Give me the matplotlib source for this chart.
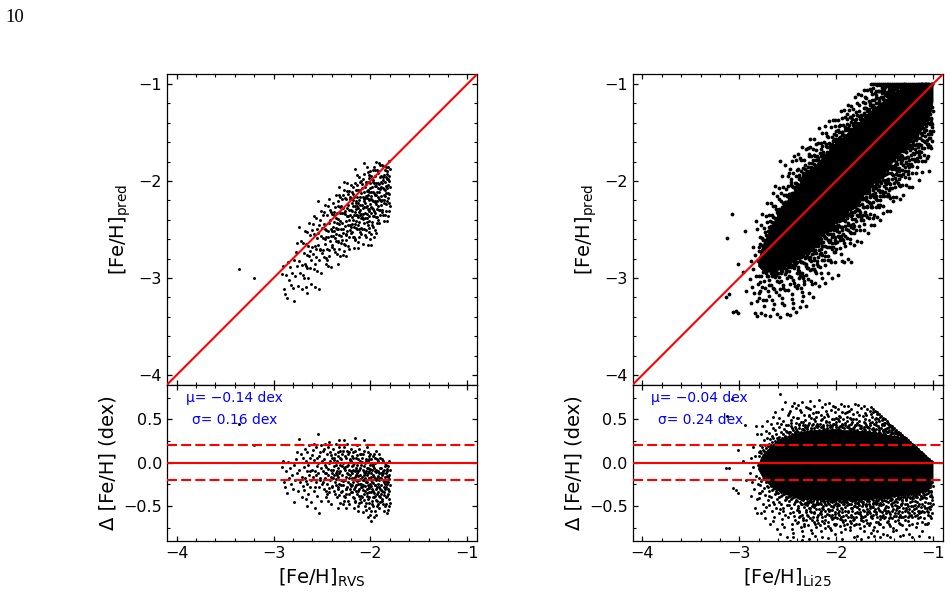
import matplotlib
matplotlib.use("Agg")
import matplotlib.pyplot as plt
import numpy as np
from matplotlib.ticker import MultipleLocator

# ---------------- data ----------------
# Left panel: ([Fe/H]_RVS, residual = pred - RVS)
rvs_pairs = [
    (-3.36, 0.45), (-3.20, 0.20),
    (-2.91, -0.05), (-2.90, 0.02), (-2.89, -0.22), (-2.88, -0.28), (-2.87, -0.10), (-2.86, -0.35),
    (-2.85, 0.01), (-2.84, -0.18), (-2.83, -0.06), (-2.82, -0.25), (-2.81, -0.14), (-2.80, -0.30),
    (-2.79, -0.02), (-2.78, -0.20), (-2.77, 0.04), (-2.76, -0.12), (-2.75, -0.33), (-2.74, 0.27),
    (-2.74, -0.08), (-2.73, -0.22), (-2.72, 0.10), (-2.71, -0.16), (-2.71, -0.40), (-2.70, 0.06),
    (-2.70, -0.27), (-2.79, -0.45), (-2.76, 0.12),
    (-2.69, -0.05), (-2.69, -0.31), (-2.68, 0.16), (-2.68, -0.18), (-2.67, -0.42), (-2.67, 0.02),
    (-2.66, -0.10), (-2.66, -0.24), (-2.65, 0.12), (-2.65, -0.50), (-2.64, -0.03), (-2.64, -0.36),
    (-2.63, 0.20), (-2.63, -0.14), (-2.62, -0.28), (-2.62, 0.06), (-2.61, -0.20), (-2.61, -0.45),
    (-2.60, 0.09), (-2.60, -0.08),
    (-2.59, -0.16), (-2.59, 0.15), (-2.58, -0.33), (-2.58, 0.03), (-2.57, -0.10), (-2.57, -0.52),
    (-2.56, 0.18), (-2.56, -0.22), (-2.55, -0.04), (-2.55, -0.38), (-2.54, 0.33), (-2.54, -0.12),
    (-2.53, 0.08), (-2.53, -0.28), (-2.52, -0.18), (-2.52, 0.12), (-2.51, -0.44), (-2.51, -0.06),
    (-2.50, 0.02), (-2.50, -0.24), (-2.58, 0.22), (-2.53, -0.58), (-2.56, -0.14), (-2.51, 0.20),
    (-2.55, 0.05),
    (-2.49, -0.10), (-2.49, 0.14), (-2.48, -0.30), (-2.48, 0.04), (-2.47, -0.18), (-2.47, 0.22),
    (-2.46, -0.40), (-2.46, -0.05), (-2.45, 0.10), (-2.45, -0.25), (-2.44, -0.14), (-2.44, 0.18),
    (-2.43, -0.34), (-2.43, 0.00), (-2.42, -0.20), (-2.42, 0.12), (-2.41, -0.08), (-2.41, -0.48),
    (-2.40, 0.06), (-2.40, -0.28), (-2.49, -0.22), (-2.47, -0.02), (-2.45, -0.36), (-2.43, 0.24),
    (-2.41, -0.16), (-2.48, 0.16), (-2.46, -0.12), (-2.44, -0.44), (-2.42, 0.02), (-2.40, -0.12),
    (-2.39, 0.16), (-2.39, -0.18), (-2.38, -0.04), (-2.38, -0.32), (-2.37, 0.10), (-2.37, -0.22),
    (-2.36, -0.12), (-2.36, 0.22), (-2.35, -0.40), (-2.35, 0.02), (-2.34, -0.16), (-2.34, -0.28),
    (-2.33, 0.12), (-2.33, -0.06), (-2.32, -0.24), (-2.32, 0.18), (-2.31, -0.10), (-2.31, -0.46),
    (-2.30, 0.04), (-2.30, -0.20), (-2.39, -0.08), (-2.38, 0.06), (-2.37, -0.36), (-2.36, -0.02),
    (-2.35, -0.14), (-2.34, 0.08), (-2.33, -0.30), (-2.32, -0.12), (-2.31, 0.14), (-2.30, -0.34),
    (-2.36, -0.26), (-2.34, -0.52), (-2.32, 0.26), (-2.38, -0.14), (-2.31, -0.02),
    (-2.29, -0.14), (-2.29, 0.10), (-2.28, -0.26), (-2.28, 0.00), (-2.27, -0.38), (-2.27, 0.18),
    (-2.26, -0.08), (-2.26, -0.20), (-2.25, 0.06), (-2.25, -0.30), (-2.24, -0.12), (-2.24, 0.22),
    (-2.23, -0.44), (-2.23, -0.02), (-2.22, -0.18), (-2.22, 0.12), (-2.21, -0.24), (-2.21, 0.04),
    (-2.20, -0.34), (-2.20, -0.10), (-2.29, -0.32), (-2.28, 0.14), (-2.27, -0.06), (-2.26, 0.08),
    (-2.25, -0.16), (-2.24, -0.28), (-2.23, 0.10), (-2.22, -0.36), (-2.21, -0.14), (-2.20, 0.02),
    (-2.28, -0.48), (-2.26, -0.40), (-2.24, -0.04), (-2.22, -0.08), (-2.20, 0.16), (-2.27, 0.26),
    (-2.25, -0.52), (-2.23, -0.22), (-2.21, -0.30), (-2.29, -0.04),
    (-2.19, -0.12), (-2.19, 0.08), (-2.18, -0.22), (-2.18, -0.40), (-2.17, 0.00), (-2.17, -0.30),
    (-2.16, 0.14), (-2.16, -0.16), (-2.15, -0.06), (-2.15, -0.26), (-2.14, 0.20), (-2.14, -0.36),
    (-2.13, -0.10), (-2.13, 0.04), (-2.12, -0.20), (-2.12, -0.46), (-2.11, 0.10), (-2.11, -0.14),
    (-2.10, -0.28), (-2.10, -0.02), (-2.19, -0.34), (-2.18, 0.12), (-2.17, -0.18), (-2.16, -0.44),
    (-2.15, 0.06), (-2.14, -0.12), (-2.13, -0.32), (-2.12, 0.16), (-2.11, -0.24), (-2.10, -0.38),
    (-2.19, -0.04), (-2.17, -0.52), (-2.15, -0.20), (-2.13, -0.24), (-2.11, 0.02), (-2.18, -0.08),
    (-2.16, -0.28), (-2.14, -0.02), (-2.12, -0.08), (-2.10, 0.10), (-2.16, 0.28), (-2.13, -0.56),
    (-2.11, -0.42), (-2.15, -0.14), (-2.12, -0.30),
    (-2.09, -0.16), (-2.09, 0.06), (-2.08, -0.26), (-2.08, -0.08), (-2.07, 0.14), (-2.07, -0.36),
    (-2.06, -0.12), (-2.06, -0.50), (-2.05, 0.02), (-2.05, -0.22), (-2.04, -0.30), (-2.04, 0.18),
    (-2.03, -0.06), (-2.03, -0.42), (-2.02, -0.18), (-2.02, 0.08), (-2.01, -0.28), (-2.01, -0.10),
    (-2.00, -0.60), (-2.00, -0.02), (-2.09, -0.40), (-2.08, 0.10), (-2.07, -0.20), (-2.06, 0.00),
    (-2.05, -0.46), (-2.04, -0.14), (-2.03, 0.12), (-2.02, -0.34), (-2.01, 0.04), (-2.00, -0.24),
    (-2.09, -0.28), (-2.07, -0.04), (-2.05, -0.10), (-2.03, -0.26), (-2.01, -0.52), (-2.08, -0.57),
    (-2.06, -0.32), (-2.04, -0.06), (-2.02, -0.46), (-2.00, 0.10), (-2.07, 0.26), (-2.03, -0.63),
    (-2.07, -0.14), (-2.01, -0.18), (-2.04, -0.38),
    (-1.99, -0.12), (-1.99, 0.04), (-1.98, -0.22), (-1.98, -0.44), (-1.97, -0.04), (-1.97, -0.32),
    (-1.96, 0.10), (-1.96, -0.16), (-1.95, -0.26), (-1.95, -0.56), (-1.94, -0.08), (-1.94, 0.14),
    (-1.93, -0.36), (-1.93, -0.18), (-1.92, 0.02), (-1.92, -0.48), (-1.91, -0.12), (-1.91, -0.28),
    (-1.90, -0.40), (-1.90, 0.06), (-1.99, -0.34), (-1.98, 0.00), (-1.97, -0.50), (-1.96, -0.40),
    (-1.95, -0.10), (-1.94, -0.30), (-1.93, 0.04), (-1.92, -0.24), (-1.91, 0.10), (-1.90, -0.18),
    (-1.99, -0.20), (-1.97, -0.14), (-1.95, 0.06), (-1.93, -0.44), (-1.91, -0.52), (-1.98, -0.30),
    (-1.96, -0.06), (-1.94, -0.20), (-1.92, -0.10), (-1.90, -0.30), (-1.96, -0.62), (-1.94, -0.60),
    (-1.97, 0.08), (-1.92, -0.34), (-1.95, -0.38), (-1.99, -0.67),
    (-1.89, -0.06), (-1.89, -0.26), (-1.88, -0.14), (-1.88, -0.42), (-1.87, 0.02), (-1.87, -0.20),
    (-1.86, -0.34), (-1.86, -0.08), (-1.85, -0.50), (-1.85, -0.16), (-1.84, -0.02), (-1.84, -0.28),
    (-1.83, -0.38), (-1.83, -0.10), (-1.82, -0.22), (-1.82, -0.04), (-1.81, -0.32), (-1.81, -0.14),
    (-1.80, -0.46), (-1.80, -0.08), (-1.89, -0.36), (-1.88, 0.04), (-1.87, -0.48), (-1.86, -0.22),
    (-1.85, 0.00), (-1.84, -0.40), (-1.83, -0.24), (-1.82, -0.54), (-1.81, 0.02), (-1.80, -0.26),
    (-1.85, -0.30), (-1.83, -0.58), (-1.87, -0.12), (-1.82, -0.16), (-1.84, -0.12),
]
rvs_pairs_dense = [
    (-2.285, -0.21), (-2.262, -0.05), (-2.248, -0.36), (-2.231, -0.13), (-2.215, 0.03), (-2.204, -0.27),
    (-2.193, -0.18), (-2.182, 0.05), (-2.171, -0.41), (-2.163, -0.09), (-2.152, -0.33), (-2.141, -0.21),
    (-2.135, 0.09), (-2.124, -0.15), (-2.117, -0.38), (-2.106, -0.06), (-2.098, -0.24), (-2.087, 0.01),
    (-2.079, -0.31), (-2.071, -0.11), (-2.063, -0.43), (-2.055, -0.17), (-2.046, 0.04), (-2.038, -0.22),
    (-2.031, -0.35), (-2.022, -0.12), (-2.014, -0.40), (-2.006, -0.07), (-1.998, -0.27), (-1.991, -0.16),
    (-1.984, -0.47), (-1.976, -0.23), (-1.969, -0.02), (-1.961, -0.35), (-1.953, -0.19), (-1.946, -0.43),
    (-1.938, -0.11), (-1.931, -0.28), (-1.924, 0.01), (-1.916, -0.38), (-1.909, -0.20), (-1.902, -0.06),
    (-1.895, -0.31), (-1.887, -0.18), (-1.879, -0.44), (-1.872, -0.09), (-1.864, -0.28), (-1.857, -0.37),
    (-1.849, -0.04), (-1.842, -0.21), (-1.835, -0.47), (-1.827, -0.15), (-1.819, -0.30), (-1.812, -0.42),
    (-1.805, -0.19), (-2.345, -0.09), (-2.327, -0.37), (-2.318, 0.05), (-2.303, -0.26), (-2.392, -0.27),
    (-2.376, 0.03), (-2.358, -0.19), (-2.441, -0.07), (-2.426, -0.29), (-2.412, 0.09), (-2.473, -0.12),
    (-2.461, -0.33), (-2.516, -0.20), (-2.537, 0.00), (-2.574, -0.28), (-2.622, -0.10), (-2.668, -0.21),
    (-2.277, -0.44), (-2.256, -0.30), (-2.238, 0.13), (-2.223, -0.48), (-2.187, -0.26), (-2.176, -0.02),
    (-2.158, -0.45), (-2.146, -0.08), (-2.128, -0.50), (-2.113, -0.19), (-2.094, -0.45), (-2.082, -0.20),
    (-2.058, -0.27), (-2.042, -0.54), (-2.027, 0.02), (-2.017, -0.29), (-1.993, -0.55), (-1.981, -0.08),
    (-1.972, -0.39), (-1.957, -0.26), (-1.949, 0.00), (-1.934, -0.50), (-1.921, -0.15), (-1.905, -0.45),
    (-1.891, -0.12), (-1.876, -0.32), (-1.861, -0.55), (-1.846, -0.25), (-1.831, -0.07), (-1.816, -0.36),
    (-1.808, -0.50),
]
rvs_mu, rvs_sigma = -0.14, 0.16

# Right panel ([Fe/H]_Li25, residual). Outline of the saturated (solid black) core of the cloud
li25_core_upper = [
    (-2.80, -0.04), (-2.77, 0.06), (-2.74, 0.11), (-2.70, 0.15), (-2.66, 0.20), (-2.62, 0.23),
    (-2.57, 0.27), (-2.52, 0.29), (-2.47, 0.31), (-2.42, 0.33), (-2.36, 0.35), (-2.30, 0.36),
    (-2.24, 0.37), (-2.18, 0.37), (-2.12, 0.38), (-2.05, 0.38), (-1.98, 0.38), (-1.91, 0.37),
    (-1.84, 0.37), (-1.77, 0.36), (-1.70, 0.36), (-1.62, 0.35), (-1.55, 0.34), (-1.48, 0.32),
    (-1.41, 0.30), (-1.35, 0.28), (-1.30, 0.26), (-1.26, 0.235), (-1.22, 0.20), (-1.18, 0.17),
    (-1.14, 0.13), (-1.10, 0.09), (-1.06, 0.055), (-1.03, 0.025), (-1.00, 0.00),
]
li25_core_lower = [
    (-1.00, -0.18), (-1.01, -0.25), (-1.03, -0.29), (-1.06, -0.32), (-1.10, -0.34), (-1.16, -0.36),
    (-1.22, -0.37), (-1.30, -0.38), (-1.38, -0.39), (-1.46, -0.40), (-1.55, -0.41), (-1.64, -0.42),
    (-1.73, -0.43), (-1.82, -0.43), (-1.91, -0.43), (-2.00, -0.43), (-2.09, -0.43), (-2.18, -0.42),
    (-2.27, -0.42), (-2.36, -0.41), (-2.44, -0.39), (-2.51, -0.37), (-2.57, -0.34), (-2.62, -0.31),
    (-2.67, -0.27), (-2.71, -0.23), (-2.75, -0.18), (-2.78, -0.12), (-2.80, -0.08),
]
# sparse stars at the metal-poor end
li25_sparse = [
    (-3.14, -0.06), (-3.13, 0.54), (-3.105, -0.065), (-3.07, 0.73), (-3.065, -0.285), (-3.03, -0.31),
    (-3.013, -0.347), (-3.01, 0.15), (-2.96, 0.02), (-2.944, 0.43), (-2.93, -0.20),
    (-2.89, -0.12), (-2.88, 0.05), (-2.88, -0.38), (-2.87, -0.22), (-2.86, 0.18), (-2.86, -0.05),
    (-2.85, -0.30), (-2.84, -0.52), (-2.84, 0.08), (-2.83, -0.15), (-2.82, 0.33), (-2.82, -0.42),
    (-2.81, -0.02), (-2.81, -0.25), (-2.80, 0.12), (-2.80, -0.35), (-2.83, 0.42), (-2.815, -0.58),
]
# stars above the solid core
li25_upper = [
    (-2.797, 0.08), (-2.791, 0.21), (-2.786, 0.14), (-2.779, 0.33), (-2.772, 0.11), (-2.768, 0.18),
    (-2.761, 0.42), (-2.754, 0.15), (-2.748, 0.26), (-2.741, 0.13), (-2.735, 0.21), (-2.728, 0.37),
    (-2.722, 0.17), (-2.716, 0.29), (-2.709, 0.48), (-2.703, 0.19),
    (-2.698, 0.22), (-2.693, 0.34), (-2.687, 0.19), (-2.681, 0.27), (-2.676, 0.45), (-2.670, 0.21),
    (-2.664, 0.31), (-2.659, 0.24), (-2.652, 0.53), (-2.647, 0.28), (-2.641, 0.20), (-2.636, 0.38),
    (-2.629, 0.25), (-2.623, 0.33), (-2.618, 0.23), (-2.612, 0.46), (-2.606, 0.29), (-2.601, 0.26),
    (-2.655, 0.40), (-2.627, 0.58),
    (-2.597, 0.27), (-2.592, 0.41), (-2.586, 0.30), (-2.581, 0.79), (-2.575, 0.26), (-2.569, 0.36),
    (-2.564, 0.62), (-2.558, 0.29), (-2.553, 0.33), (-2.547, 0.48), (-2.541, 0.28), (-2.536, 0.39),
    (-2.530, 0.70), (-2.525, 0.31), (-2.519, 0.44), (-2.513, 0.30), (-2.508, 0.35), (-2.502, 0.55),
    (-2.588, 0.52), (-2.544, 0.27), (-2.516, 0.37), (-2.572, 0.45),
    (-2.496, 0.44), (-2.489, 0.31), (-2.483, 0.57), (-2.479, 0.35), (-2.471, 0.30), (-2.466, 0.49),
    (-2.458, 0.66), (-2.453, 0.33), (-2.447, 0.38), (-2.444, 0.53), (-2.436, 0.31), (-2.429, 0.41),
    (-2.423, 0.34), (-2.418, 0.63), (-2.411, 0.46), (-2.406, 0.32), (-2.401, 0.37), (-2.462, 0.42),
    (-2.491, 0.36), (-2.433, 0.69), (-2.415, 0.39), (-2.474, 0.60),
    (-2.398, 0.52), (-2.390, 0.35), (-2.384, 0.40), (-2.377, 0.61), (-2.372, 0.33), (-2.366, 0.47),
    (-2.359, 0.36), (-2.351, 0.70), (-2.346, 0.43), (-2.340, 0.34), (-2.333, 0.55), (-2.327, 0.38),
    (-2.321, 0.49), (-2.316, 0.33), (-2.311, 0.64), (-2.305, 0.41), (-2.303, 0.36), (-2.362, 0.58),
    (-2.387, 0.45), (-2.343, 0.39), (-2.318, 0.44), (-2.394, 0.67),
    (-2.299, 0.39), (-2.293, 0.63), (-2.287, 0.35), (-2.279, 0.46), (-2.272, 0.71), (-2.266, 0.37),
    (-2.261, 0.52), (-2.255, 0.35), (-2.249, 0.43), (-2.243, 0.57), (-2.238, 0.36), (-2.231, 0.66),
    (-2.227, 0.40), (-2.221, 0.48), (-2.214, 0.35), (-2.209, 0.59), (-2.204, 0.42), (-2.282, 0.54),
    (-2.258, 0.38), (-2.234, 0.45), (-2.216, 0.37), (-2.269, 0.62),
    (-2.197, 0.45), (-2.191, 0.35), (-2.186, 0.58), (-2.179, 0.38), (-2.173, 0.72), (-2.168, 0.36),
    (-2.160, 0.49), (-2.155, 0.41), (-2.149, 0.35), (-2.144, 0.64), (-2.139, 0.44), (-2.132, 0.37),
    (-2.126, 0.53), (-2.121, 0.39), (-2.116, 0.68), (-2.111, 0.35), (-2.106, 0.47), (-2.102, 0.60),
    (-2.183, 0.42), (-2.157, 0.55), (-2.134, 0.40), (-2.119, 0.36),
    (-2.099, 0.40), (-2.094, 0.56), (-2.087, 0.35), (-2.079, 0.47), (-2.074, 0.69), (-2.068, 0.37),
    (-2.062, 0.43), (-2.056, 0.61), (-2.051, 0.36), (-2.045, 0.50), (-2.039, 0.39), (-2.034, 0.66),
    (-2.029, 0.35), (-2.022, 0.45), (-2.017, 0.58), (-2.011, 0.38), (-2.006, 0.52), (-2.003, 0.41),
    (-2.091, 0.44), (-2.071, 0.36), (-2.043, 0.42), (-2.014, 0.64),
    (-1.998, 0.47), (-1.992, 0.36), (-1.986, 0.62), (-1.979, 0.39), (-1.973, 0.35), (-1.969, 0.54),
    (-1.962, 0.42), (-1.955, 0.68), (-1.949, 0.37), (-1.944, 0.45), (-1.938, 0.59), (-1.932, 0.36),
    (-1.927, 0.50), (-1.921, 0.40), (-1.915, 0.65), (-1.909, 0.35), (-1.904, 0.43), (-1.982, 0.51),
    (-1.958, 0.38), (-1.935, 0.44), (-1.912, 0.57), (-1.966, 0.41),
    (-1.896, 0.36), (-1.891, 0.58), (-1.884, 0.41), (-1.878, 0.35), (-1.873, 0.66), (-1.867, 0.44),
    (-1.861, 0.37), (-1.856, 0.52), (-1.850, 0.39), (-1.843, 0.62), (-1.838, 0.35), (-1.833, 0.47),
    (-1.826, 0.40), (-1.821, 0.56), (-1.815, 0.36), (-1.809, 0.68), (-1.803, 0.43), (-1.888, 0.48),
    (-1.864, 0.40), (-1.846, 0.45), (-1.818, 0.38), (-1.871, 0.60),
    (-1.797, 0.44), (-1.790, 0.35), (-1.786, 0.59), (-1.780, 0.38), (-1.774, 0.67), (-1.768, 0.36),
    (-1.762, 0.48), (-1.757, 0.40), (-1.751, 0.34), (-1.745, 0.63), (-1.739, 0.42), (-1.734, 0.37),
    (-1.727, 0.54), (-1.722, 0.35), (-1.716, 0.65), (-1.710, 0.39), (-1.705, 0.46), (-1.701, 0.57),
    (-1.793, 0.50), (-1.765, 0.43), (-1.737, 0.36), (-1.713, 0.41),
    (-1.698, 0.38), (-1.692, 0.55), (-1.687, 0.34), (-1.680, 0.62), (-1.675, 0.41), (-1.669, 0.35),
    (-1.663, 0.49), (-1.657, 0.37), (-1.652, 0.60), (-1.646, 0.43), (-1.641, 0.34), (-1.635, 0.53),
    (-1.628, 0.39), (-1.623, 0.58), (-1.617, 0.35), (-1.611, 0.45), (-1.606, 0.36), (-1.602, 0.51),
    (-1.690, 0.44), (-1.660, 0.40), (-1.632, 0.47), (-1.614, 0.38),
    (-1.597, 0.35), (-1.591, 0.52), (-1.585, 0.39), (-1.580, 0.33), (-1.574, 0.56), (-1.568, 0.42),
    (-1.561, 0.36), (-1.556, 0.48), (-1.550, 0.34), (-1.544, 0.53), (-1.538, 0.40), (-1.532, 0.32),
    (-1.527, 0.45), (-1.521, 0.37), (-1.515, 0.50), (-1.509, 0.34), (-1.504, 0.43), (-1.588, 0.44),
    (-1.559, 0.40), (-1.530, 0.49), (-1.512, 0.38),
    (-1.497, 0.33), (-1.491, 0.46), (-1.486, 0.31), (-1.479, 0.40), (-1.473, 0.35), (-1.468, 0.45),
    (-1.462, 0.30), (-1.456, 0.38), (-1.450, 0.44), (-1.444, 0.32), (-1.438, 0.42), (-1.432, 0.36),
    (-1.427, 0.30), (-1.421, 0.40), (-1.415, 0.34), (-1.409, 0.39), (-1.404, 0.31), (-1.483, 0.37),
    (-1.459, 0.41), (-1.435, 0.33),
    (-1.396, 0.30), (-1.391, 0.37), (-1.384, 0.28), (-1.378, 0.34), (-1.372, 0.31), (-1.366, 0.35),
    (-1.359, 0.29), (-1.353, 0.33), (-1.347, 0.28), (-1.341, 0.32), (-1.335, 0.30), (-1.328, 0.27),
    (-1.322, 0.31), (-1.316, 0.29), (-1.309, 0.28), (-1.303, 0.30),
    (-1.296, 0.26), (-1.289, 0.28), (-1.281, 0.24), (-1.274, 0.26), (-1.266, 0.23), (-1.259, 0.25),
    (-1.251, 0.24), (-1.243, 0.23), (-1.236, 0.22), (-1.228, 0.21), (-1.219, 0.21), (-1.211, 0.20),
    (-1.195, 0.18), (-1.186, 0.17), (-1.177, 0.16), (-1.168, 0.16), (-1.159, 0.15), (-1.151, 0.14),
    (-1.142, 0.13), (-1.133, 0.125), (-1.124, 0.12), (-1.115, 0.11), (-1.106, 0.10),
    (-1.097, 0.09), (-1.088, 0.08), (-1.079, 0.075), (-1.069, 0.065), (-1.058, 0.05), (-1.048, 0.045),
    (-1.037, 0.03), (-1.026, 0.02), (-1.015, 0.01),
]
li25_upper_extra = [
    (-2.484, 0.34), (-2.452, 0.40), (-2.420, 0.36), (-2.388, 0.43), (-2.357, 0.39), (-2.325, 0.41),
    (-2.292, 0.44), (-2.260, 0.40), (-2.229, 0.50), (-2.196, 0.41), (-2.165, 0.45), (-2.133, 0.42),
    (-2.100, 0.48), (-2.068, 0.41), (-2.037, 0.45), (-2.005, 0.44), (-1.972, 0.48), (-1.940, 0.41),
    (-1.908, 0.46), (-1.876, 0.42), (-1.844, 0.50), (-1.812, 0.41), (-1.780, 0.46), (-1.748, 0.40),
    (-1.716, 0.47), (-1.684, 0.41), (-1.652, 0.46), (-1.620, 0.40), (-1.588, 0.47), (-1.556, 0.38),
    (-1.524, 0.43), (-1.492, 0.39), (-1.460, 0.36), (-1.428, 0.38), (-1.396, 0.34), (-1.364, 0.33),
    (-1.332, 0.31), (-2.470, 0.46), (-2.405, 0.52), (-2.340, 0.47), (-2.276, 0.55), (-2.212, 0.53),
    (-2.148, 0.51), (-2.084, 0.54), (-2.020, 0.50), (-1.956, 0.53), (-1.892, 0.53), (-1.828, 0.51),
    (-1.764, 0.55), (-1.700, 0.50), (-1.636, 0.56), (-1.572, 0.50), (-1.508, 0.46),
]
# stars whose prediction saturates at [Fe/H]_pred = -1
li25_clipped = [
    (-1.64, 0.64), (-1.62, 0.62), (-1.60, 0.60), (-1.58, 0.58), (-1.56, 0.56), (-1.54, 0.54),
    (-1.52, 0.52), (-1.50, 0.50), (-1.48, 0.48), (-1.46, 0.46), (-1.44, 0.44), (-1.42, 0.42),
    (-1.40, 0.40), (-1.38, 0.38), (-1.36, 0.36), (-1.34, 0.34), (-1.32, 0.32), (-1.30, 0.30),
    (-1.28, 0.28), (-1.26, 0.26), (-1.24, 0.24), (-1.22, 0.22), (-1.20, 0.20), (-1.18, 0.18),
    (-1.16, 0.16), (-1.14, 0.14), (-1.12, 0.12), (-1.10, 0.10), (-1.08, 0.08), (-1.06, 0.06),
    (-1.04, 0.04), (-1.02, 0.02), (-1.01, 0.01),
]
# stars below the solid core
li25_lower = [
    (-2.798, -0.18), (-2.792, -0.41), (-2.785, -0.26), (-2.777, -0.58), (-2.771, -0.21), (-2.766, -0.33),
    (-2.758, -0.47), (-2.751, -0.19), (-2.745, -0.29), (-2.739, -0.64), (-2.732, -0.37), (-2.726, -0.22),
    (-2.719, -0.51), (-2.713, -0.27), (-2.707, -0.43), (-2.702, -0.20), (-2.781, -0.35), (-2.742, -0.55),
    (-2.699, -0.28), (-2.694, -0.49), (-2.688, -0.33), (-2.682, -0.71), (-2.675, -0.27), (-2.669, -0.40),
    (-2.662, -0.56), (-2.657, -0.30), (-2.650, -0.45), (-2.644, -0.62), (-2.638, -0.29), (-2.633, -0.36),
    (-2.626, -0.52), (-2.620, -0.32), (-2.613, -0.76), (-2.608, -0.42), (-2.603, -0.28), (-2.691, -0.38),
    (-2.665, -0.31), (-2.641, -0.47), (-2.617, -0.35), (-2.654, -0.67),
    (-2.598, -0.35), (-2.591, -0.58), (-2.586, -0.40), (-2.579, -0.82), (-2.573, -0.34), (-2.566, -0.47),
    (-2.561, -0.65), (-2.555, -0.37), (-2.548, -0.52), (-2.542, -0.74), (-2.537, -0.36), (-2.531, -0.43),
    (-2.524, -0.60), (-2.519, -0.39), (-2.512, -0.86), (-2.507, -0.49), (-2.502, -0.35), (-2.594, -0.45),
    (-2.569, -0.38), (-2.545, -0.56), (-2.521, -0.42), (-2.558, -0.70), (-2.528, -0.34), (-2.583, -0.53),
    (-2.497, -0.39), (-2.492, -0.63), (-2.485, -0.44), (-2.478, -0.90), (-2.472, -0.38), (-2.467, -0.52),
    (-2.460, -0.71), (-2.454, -0.41), (-2.449, -0.57), (-2.443, -0.81), (-2.436, -0.40), (-2.430, -0.47),
    (-2.424, -0.66), (-2.418, -0.43), (-2.413, -0.94), (-2.407, -0.54), (-2.402, -0.39), (-2.488, -0.49),
    (-2.463, -0.42), (-2.439, -0.61), (-2.421, -0.45), (-2.457, -0.76), (-2.427, -0.38), (-2.481, -0.58),
    (-2.446, -0.86), (-2.409, -0.69),
    (-2.399, -0.44), (-2.393, -0.68), (-2.387, -0.41), (-2.381, -0.55), (-2.374, -0.93), (-2.368, -0.47),
    (-2.362, -0.74), (-2.357, -0.42), (-2.351, -0.60), (-2.345, -0.84), (-2.338, -0.43), (-2.332, -0.51),
    (-2.327, -0.70), (-2.321, -0.41), (-2.315, -0.97), (-2.309, -0.57), (-2.304, -0.45), (-2.390, -0.50),
    (-2.365, -0.42), (-2.341, -0.64), (-2.318, -0.48), (-2.354, -0.79), (-2.329, -0.41), (-2.384, -0.62),
    (-2.348, -0.89), (-2.311, -0.66),
    (-2.298, -0.42), (-2.292, -0.61), (-2.286, -0.46), (-2.279, -0.88), (-2.273, -0.43), (-2.268, -0.55),
    (-2.261, -0.77), (-2.255, -0.42), (-2.250, -0.50), (-2.244, -0.95), (-2.237, -0.44), (-2.231, -0.58),
    (-2.226, -0.68), (-2.220, -0.41), (-2.214, -0.84), (-2.208, -0.53), (-2.203, -0.47), (-2.289, -0.72),
    (-2.264, -0.45), (-2.240, -0.63), (-2.217, -0.49), (-2.253, -0.81), (-2.228, -0.42), (-2.283, -0.52),
    (-2.247, -0.66), (-2.211, -0.74),
    (-2.199, -0.43), (-2.194, -0.66), (-2.187, -0.41), (-2.180, -0.53), (-2.176, -0.91), (-2.169, -0.46),
    (-2.163, -0.72), (-2.158, -0.44), (-2.152, -0.59), (-2.146, -0.85), (-2.139, -0.42), (-2.134, -0.50),
    (-2.128, -0.69), (-2.122, -0.45), (-2.116, -0.94), (-2.110, -0.56), (-2.105, -0.41), (-2.191, -0.48),
    (-2.166, -0.42), (-2.143, -0.62), (-2.119, -0.47), (-2.155, -0.79), (-2.131, -0.43), (-2.184, -0.60),
    (-2.149, -0.52), (-2.113, -0.75),
    (-2.098, -0.44), (-2.091, -0.59), (-2.086, -0.42), (-2.080, -0.87), (-2.074, -0.47), (-2.067, -0.54),
    (-2.062, -0.75), (-2.056, -0.41), (-2.051, -0.63), (-2.044, -0.96), (-2.038, -0.43), (-2.033, -0.51),
    (-2.027, -0.70), (-2.021, -0.44), (-2.015, -0.82), (-2.010, -0.57), (-2.004, -0.46), (-2.089, -0.68),
    (-2.064, -0.44), (-2.041, -0.60), (-2.018, -0.49), (-2.053, -0.78), (-2.030, -0.42), (-2.083, -0.53),
    (-2.047, -0.65), (-2.012, -0.72),
    (-1.997, -0.43), (-1.992, -0.64), (-1.986, -0.47), (-1.979, -0.99), (-1.973, -0.42), (-1.968, -0.56),
    (-1.961, -0.73), (-1.955, -0.45), (-1.950, -0.52), (-1.944, -0.88), (-1.938, -0.41), (-1.932, -0.61),
    (-1.926, -0.68), (-1.920, -0.44), (-1.915, -0.92), (-1.909, -0.55), (-1.903, -0.43), (-1.989, -0.50),
    (-1.965, -0.42), (-1.941, -0.66), (-1.918, -0.48), (-1.953, -0.80), (-1.929, -0.44), (-1.983, -0.58),
    (-1.947, -0.62), (-1.912, -0.76),
    (-1.898, -0.45), (-1.892, -0.70), (-1.885, -0.42), (-1.879, -0.55), (-1.874, -0.93), (-1.868, -0.47),
    (-1.862, -0.78), (-1.856, -0.43), (-1.851, -0.60), (-1.845, -0.99), (-1.838, -0.44), (-1.833, -0.52),
    (-1.827, -0.66), (-1.821, -0.41), (-1.815, -0.85), (-1.809, -0.58), (-1.804, -0.46), (-1.889, -0.49),
    (-1.865, -0.41), (-1.842, -0.63), (-1.818, -0.50), (-1.854, -0.74), (-1.830, -0.43), (-1.882, -0.62),
    (-1.848, -0.69), (-1.812, -0.72),
    (-1.799, -0.42), (-1.793, -0.62), (-1.787, -0.46), (-1.781, -0.84), (-1.774, -0.43), (-1.769, -0.53),
    (-1.763, -0.70), (-1.757, -0.41), (-1.751, -0.59), (-1.745, -0.88), (-1.739, -0.44), (-1.734, -0.50),
    (-1.728, -0.67), (-1.722, -0.45), (-1.716, -0.79), (-1.710, -0.56), (-1.705, -0.42), (-1.790, -0.51),
    (-1.766, -0.44), (-1.742, -0.64), (-1.719, -0.47), (-1.754, -0.75), (-1.731, -0.41), (-1.784, -0.57),
    (-1.748, -0.61), (-1.713, -0.73),
    (-1.698, -0.41), (-1.692, -0.66), (-1.686, -0.44), (-1.680, -0.53), (-1.675, -0.86), (-1.668, -0.42),
    (-1.662, -0.72), (-1.657, -0.47), (-1.651, -0.58), (-1.645, -0.81), (-1.639, -0.40), (-1.633, -0.51),
    (-1.627, -0.64), (-1.621, -0.43), (-1.616, -0.77), (-1.610, -0.55), (-1.604, -0.45), (-1.689, -0.49),
    (-1.665, -0.41), (-1.642, -0.61), (-1.618, -0.48), (-1.654, -0.69), (-1.630, -0.42), (-1.683, -0.59),
    (-1.648, -0.52), (-1.613, -0.84),
    (-1.599, -0.40), (-1.593, -0.59), (-1.587, -0.43), (-1.581, -0.79), (-1.576, -0.46), (-1.570, -0.52),
    (-1.563, -0.68), (-1.558, -0.41), (-1.552, -0.56), (-1.546, -0.86), (-1.540, -0.42), (-1.535, -0.49),
    (-1.528, -0.63), (-1.523, -0.44), (-1.517, -0.74), (-1.511, -0.54), (-1.505, -0.40), (-1.590, -0.48),
    (-1.566, -0.43), (-1.543, -0.61), (-1.520, -0.47), (-1.555, -0.71), (-1.531, -0.41), (-1.584, -0.57),
    (-1.549, -0.65), (-1.514, -0.82),
    (-1.498, -0.39), (-1.493, -0.62), (-1.486, -0.44), (-1.480, -0.83), (-1.475, -0.41), (-1.469, -0.51),
    (-1.463, -0.67), (-1.457, -0.40), (-1.451, -0.57), (-1.445, -0.86), (-1.440, -0.43), (-1.434, -0.48),
    (-1.428, -0.64), (-1.422, -0.42), (-1.416, -0.75), (-1.411, -0.53), (-1.405, -0.45), (-1.490, -0.50),
    (-1.466, -0.40), (-1.443, -0.59), (-1.419, -0.46), (-1.454, -0.70), (-1.431, -0.41), (-1.483, -0.55),
    (-1.448, -0.62), (-1.413, -0.79),
    (-1.399, -0.38), (-1.393, -0.58), (-1.387, -0.42), (-1.381, -0.78), (-1.375, -0.45), (-1.369, -0.50),
    (-1.364, -0.66), (-1.358, -0.39), (-1.352, -0.55), (-1.346, -0.84), (-1.340, -0.41), (-1.334, -0.47),
    (-1.328, -0.62), (-1.322, -0.43), (-1.317, -0.72), (-1.311, -0.52), (-1.305, -0.39), (-1.390, -0.49),
    (-1.366, -0.41), (-1.343, -0.60), (-1.320, -0.46), (-1.355, -0.69), (-1.331, -0.40), (-1.384, -0.54),
    (-1.349, -0.63), (-1.314, -0.83),
    (-1.298, -0.37), (-1.292, -0.56), (-1.286, -0.40), (-1.280, -0.76), (-1.275, -0.43), (-1.269, -0.48),
    (-1.263, -0.63), (-1.257, -0.37), (-1.251, -0.53), (-1.245, -0.82), (-1.240, -0.39), (-1.234, -0.45),
    (-1.228, -0.60), (-1.222, -0.41), (-1.216, -0.70), (-1.210, -0.50), (-1.205, -0.38), (-1.290, -0.47),
    (-1.266, -0.39), (-1.243, -0.58), (-1.219, -0.44), (-1.254, -0.67), (-1.231, -0.36), (-1.283, -0.52),
    (-1.248, -0.61), (-1.213, -0.85),
    (-1.199, -0.34), (-1.193, -0.53), (-1.187, -0.37), (-1.181, -0.74), (-1.176, -0.40), (-1.170, -0.45),
    (-1.164, -0.60), (-1.158, -0.33), (-1.152, -0.50), (-1.146, -0.84), (-1.140, -0.36), (-1.134, -0.42),
    (-1.128, -0.57), (-1.122, -0.38), (-1.116, -0.68), (-1.110, -0.47), (-1.105, -0.35), (-1.190, -0.44),
    (-1.166, -0.36), (-1.143, -0.55), (-1.119, -0.41), (-1.154, -0.64), (-1.131, -0.33), (-1.184, -0.49),
    (-1.149, -0.58), (-1.113, -0.79),
    (-1.098, -0.30), (-1.092, -0.50), (-1.086, -0.33), (-1.080, -0.71), (-1.075, -0.36), (-1.069, -0.41),
    (-1.063, -0.56), (-1.057, -0.29), (-1.051, -0.46), (-1.045, -0.85), (-1.040, -0.32), (-1.034, -0.38),
    (-1.028, -0.53), (-1.022, -0.34), (-1.016, -0.64), (-1.010, -0.43), (-1.005, -0.27), (-1.090, -0.40),
    (-1.066, -0.31), (-1.043, -0.51), (-1.019, -0.37), (-1.054, -0.60), (-1.031, -0.28), (-1.084, -0.45),
    (-1.048, -0.69), (-1.013, -0.22), (-1.002, -0.48),
]
li25_lower_extra = [
    (-2.395, -0.52), (-2.371, -0.61), (-2.352, -0.48), (-2.336, -0.73), (-2.313, -0.54), (-2.296, -0.49),
    (-2.275, -0.64), (-2.258, -0.57), (-2.233, -0.51), (-2.219, -0.71), (-2.201, -0.62), (-2.185, -0.47),
    (-2.171, -0.58), (-2.148, -0.67), (-2.136, -0.53), (-2.118, -0.61), (-2.101, -0.49), (-2.084, -0.73),
    (-2.069, -0.56), (-2.049, -0.50), (-2.036, -0.64), (-2.016, -0.59), (-2.001, -0.70), (-1.988, -0.53),
    (-1.971, -0.49), (-1.958, -0.65), (-1.937, -0.57), (-1.922, -0.72), (-1.907, -0.51), (-1.894, -0.60),
    (-1.871, -0.48), (-1.859, -0.67), (-1.840, -0.55), (-1.823, -0.62), (-1.806, -0.50), (-1.795, -0.71),
    (-1.778, -0.58), (-1.760, -0.49), (-1.747, -0.66), (-1.725, -0.54), (-1.707, -0.61), (-1.694, -0.50),
    (-1.677, -0.69), (-1.659, -0.56), (-1.640, -0.63), (-1.624, -0.51), (-1.607, -0.74), (-1.595, -0.53),
    (-1.578, -0.62), (-1.561, -0.49), (-1.547, -0.70), (-1.529, -0.57), (-1.510, -0.64), (-1.495, -0.52),
    (-1.477, -0.68), (-1.460, -0.55), (-1.442, -0.73), (-1.425, -0.50), (-1.408, -0.61), (-1.392, -0.67),
    (-1.377, -0.52), (-1.360, -0.58), (-1.342, -0.71), (-1.326, -0.49), (-1.309, -0.62), (-1.294, -0.66),
    (-1.278, -0.54), (-1.261, -0.57), (-1.246, -0.72), (-1.229, -0.50), (-1.212, -0.63), (-1.197, -0.58),
    (-1.181, -0.52), (-1.163, -0.69), (-1.147, -0.47), (-1.131, -0.62), (-1.114, -0.55), (-1.097, -0.64),
    (-1.081, -0.52), (-1.065, -0.70), (-1.049, -0.57), (-1.033, -0.61), (-1.017, -0.50), (-1.006, -0.58),
    (-2.382, -0.57), (-2.344, -0.66), (-2.301, -0.60), (-2.266, -0.52), (-2.224, -0.57), (-2.189, -0.69),
    (-2.153, -0.55), (-2.112, -0.66), (-2.077, -0.60), (-2.040, -0.54), (-2.007, -0.63), (-1.975, -0.60),
    (-1.943, -0.53), (-1.911, -0.66), (-1.879, -0.57), (-1.846, -0.52), (-1.813, -0.65), (-1.781, -0.51),
    (-1.752, -0.57), (-1.718, -0.63), (-1.686, -0.57), (-1.653, -0.50), (-1.619, -0.60), (-1.586, -0.68),
    (-1.553, -0.54), (-1.521, -0.60), (-1.488, -0.58), (-1.455, -0.64), (-1.421, -0.56), (-1.387, -0.61),
    (-1.354, -0.51), (-1.321, -0.57), (-1.287, -0.61), (-1.255, -0.50), (-1.222, -0.55), (-1.189, -0.61),
    (-1.156, -0.55), (-1.124, -0.51), (-1.092, -0.57), (-1.059, -0.52), (-1.027, -0.46), (-1.009, -0.40),
    (-2.377, -0.45), (-2.323, -0.46), (-2.281, -0.44), (-2.242, -0.47), (-2.196, -0.45), (-2.159, -0.48),
    (-2.124, -0.44), (-2.088, -0.46), (-2.043, -0.45), (-2.009, -0.48), (-1.968, -0.44), (-1.926, -0.47),
    (-1.887, -0.45), (-1.849, -0.47), (-1.807, -0.44), (-1.770, -0.46), (-1.733, -0.45), (-1.696, -0.47),
    (-1.660, -0.44), (-1.623, -0.46), (-1.583, -0.44), (-1.544, -0.46), (-1.507, -0.43), (-1.468, -0.45),
    (-1.430, -0.43), (-1.392, -0.44), (-1.354, -0.42), (-1.316, -0.43), (-1.279, -0.42), (-1.241, -0.41),
    (-1.204, -0.41), (-1.166, -0.39), (-1.128, -0.38), (-1.091, -0.37), (-1.053, -0.35), (-1.024, -0.33),
]
li25_mu, li25_sigma = -0.04, 0.24

x_labels = [r"[Fe/H]$_{\rm RVS}$", r"[Fe/H]$_{\rm Li25}$"]
page_number = "10"

# ---------------- figure ----------------
fig = plt.figure(figsize=(9.51, 5.93), dpi=100)
fig.text(0.006, 0.963, page_number, family="Liberation Serif", fontsize=13.5,
         ha="left", va="baseline")

AX_LEFT = [0.1756, 0.6653]
AX_W = 0.3260
TOP_BOX = (0.3513, 0.5234)
BOT_BOX = (0.0879, 0.2634)
LIM = (-4.1, -0.9)
DLIM = (-0.9, 0.9)


def style(ax, major, minor):
    ax.xaxis.set_major_locator(MultipleLocator(1))
    ax.xaxis.set_minor_locator(MultipleLocator(0.2))
    ax.yaxis.set_major_locator(MultipleLocator(major))
    ax.yaxis.set_minor_locator(MultipleLocator(minor))
    ax.tick_params(which="both", direction="in", top=True, right=True, labelsize=11.5)
    ax.tick_params(which="major", length=3.5, width=0.9)
    ax.tick_params(which="minor", length=2.0, width=0.8)
    for sp in ax.spines.values():
        sp.set_linewidth(0.9)


def unzip(pairs):
    a = np.array(pairs, dtype=float)
    return a[:, 0], a[:, 1]


panels = [
    dict(scatter=[unzip(rvs_pairs), unzip(rvs_pairs_dense)], core=None,
         mu=rvs_mu, sigma=rvs_sigma, xlabel=x_labels[0], s_top=4.5, s_bot=4.5),
    dict(scatter=[unzip(li25_sparse), unzip(li25_upper), unzip(li25_upper_extra),
                  unzip(li25_lower), unzip(li25_lower_extra), unzip(li25_clipped)],
         core=unzip(li25_core_upper + li25_core_lower),
         mu=li25_mu, sigma=li25_sigma, xlabel=x_labels[1], s_top=7.5, s_bot=4.5),
]

for left, p in zip(AX_LEFT, panels):
    axt = fig.add_axes([left, TOP_BOX[0], AX_W, TOP_BOX[1]])
    axb = fig.add_axes([left, BOT_BOX[0], AX_W, BOT_BOX[1]])

    if p["core"] is not None:
        cx, cd = p["core"]
        axt.fill(cx, cx + cd, color="black", lw=0.6, zorder=2)
        axb.fill(cx, cd, color="black", lw=0.6, zorder=2)
    for x, d in p["scatter"]:
        axt.scatter(x, x + d, s=p["s_top"], c="black", marker="o", linewidths=0, zorder=2)
        axb.scatter(x, d, s=p["s_bot"], c="black", marker="o", linewidths=0, zorder=2)

    axt.axline((-2, -2), slope=1, color="red", lw=1.5, zorder=3)
    axb.axhline(0.0, color="red", lw=1.5, zorder=3)
    for lev in (0.2, -0.2):
        axb.axhline(lev, color="red", lw=1.5, ls="--", dashes=(4.8, 2.0), zorder=3)

    axt.set_xlim(*LIM)
    axt.set_ylim(*LIM)
    axb.set_xlim(*LIM)
    axb.set_ylim(*DLIM)
    style(axt, 1, 0.2)
    style(axb, 0.5, 0.25)
    axt.tick_params(labelbottom=False)

    axt.set_ylabel(r"[Fe/H]$_{\rm pred}$", fontsize=14)
    axb.set_ylabel("Δ [Fe/H] (dex)", fontsize=14)
    axb.set_xlabel(p["xlabel"], fontsize=14)

    mu_txt = f"μ= {p['mu']:.2f} dex".replace("-", "\u2212")
    sg_txt = f"σ= {p['sigma']:.2f} dex"
    axb.text(0.06, 0.916, mu_txt, transform=axb.transAxes, color="blue", fontsize=10,
             ha="left", va="center", zorder=4)
    axb.text(0.08, 0.776, sg_txt, transform=axb.transAxes, color="blue", fontsize=10,
             ha="left", va="center", zorder=4)

fig.savefig("out.png", dpi=100)
